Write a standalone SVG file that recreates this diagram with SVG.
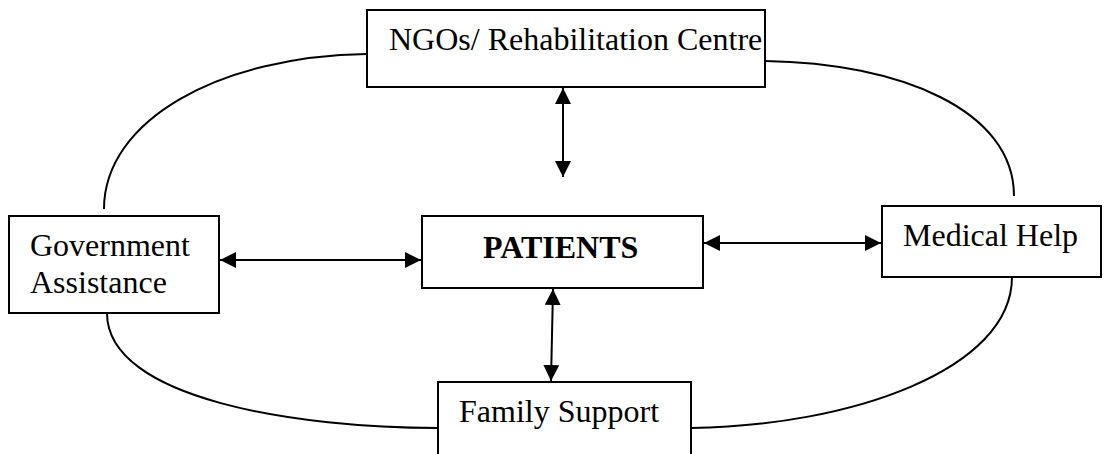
<svg xmlns="http://www.w3.org/2000/svg" width="1110" height="454" viewBox="0 0 1110 454">
<style>
.box{fill:#fff;stroke:#000;stroke-width:2}
.lbl{font-family:"Liberation Serif","Times New Roman",serif;font-size:32px;fill:#000}
.b{font-weight:bold}
.c{fill:none;stroke:#000;stroke-width:2}
.a{fill:none;stroke:#000;stroke-width:2;marker-start:url(#ah);marker-end:url(#ah)}
</style>
<defs>
<marker id="ah" viewBox="0 0 16 16" refX="16" refY="8" markerWidth="16" markerHeight="16" markerUnits="userSpaceOnUse" orient="auto-start-reverse">
<path d="M0,0 L16,8 L0,16 Z" fill="#000"/>
</marker>
</defs>
<g id="connectors">
<path class="c" d="M104,209 C104,120 220,56 367,54"/>
<path class="c" d="M765,61 C900,63 1014,110 1014,196"/>
<path class="c" d="M107,313 C107,400 300,428 438,428"/>
<path class="c" d="M691,428 C850,426 1012,370 1012,277"/>
<line class="a" x1="563" y1="88" x2="563" y2="177"/>
<line class="a" x1="220" y1="260" x2="421" y2="260"/>
<line class="a" x1="704" y1="243" x2="881" y2="243"/>
<line class="a" x1="553" y1="289" x2="551" y2="381"/>
</g>
<g id="ngo">
<rect class="box" x="367" y="10" width="398" height="77"/>
<text class="lbl" x="389" y="50">NGOs/ Rehabilitation Centre</text>
</g>
<g id="gov">
<rect class="box" x="9" y="216" width="210" height="97"/>
<text class="lbl" x="30" y="256">Government</text>
<text class="lbl" x="30" y="293">Assistance</text>
</g>
<g id="patients">
<rect class="box" x="422" y="216" width="281" height="72"/>
<text class="lbl b" x="483" y="258">PATIENTS</text>
</g>
<g id="medical">
<rect class="box" x="882" y="206" width="219" height="71"/>
<text class="lbl" x="903" y="246">Medical Help</text>
</g>
<g id="family">
<rect class="box" x="438" y="382" width="253" height="80"/>
<text class="lbl" x="459" y="422">Family Support</text>
</g>
</svg>
